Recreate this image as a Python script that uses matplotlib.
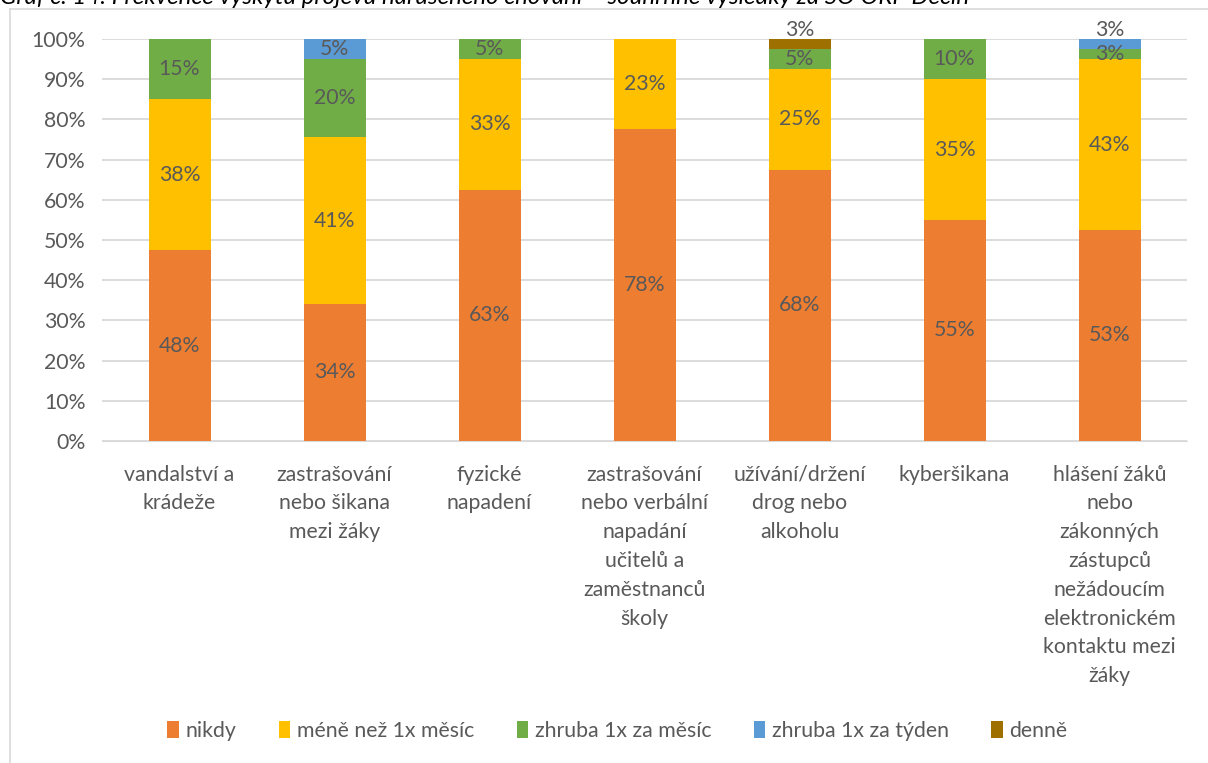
import math

import matplotlib
matplotlib.use("Agg")
import matplotlib.pyplot as plt
from matplotlib.lines import Line2D
from matplotlib.patches import Patch

plt.rcParams["font.family"] = ["Lato", "DejaVu Sans"]

categories = [
    "vandalství a\nkrádeže",
    "zastrašování\nnebo šikana\nmezi žáky",
    "fyzické\nnapadení",
    "zastrašování\nnebo verbální\nnapadání\nučitelů a\nzaměstnanců\nškoly",
    "užívání/držení\ndrog nebo\nalkoholu",
    "kyberšikana",
    "hlášení žáků\nnebo\nzákonných\nzástupců\nnežádoucím\nelektronickém\nkontaktu mezi\nžáky",
]
series_names = ["nikdy", "méně než 1x měsíc", "zhruba 1x za měsíc",
                "zhruba 1x za týden", "denně"]
nikdy = [47.5, 34.1, 62.5, 77.5, 67.5, 55.0, 52.5]
mene = [37.5, 41.4, 32.5, 22.5, 25.0, 35.0, 42.5]
mesic = [15.0, 19.5, 5.0, 0.0, 5.0, 10.0, 2.5]
tyden = [0.0, 5.0, 0.0, 0.0, 0.0, 0.0, 2.5]
denne = [0.0, 0.0, 0.0, 0.0, 2.5, 0.0, 0.0]
series = [nikdy, mene, mesic, tyden, denne]
colors = ["#ED7D31", "#FFC000", "#70AD47", "#5B9BD5", "#9E7000"]

# labels placed above the bar instead of in the segment (series idx, category idx)
above = {(4, 4), (3, 6)}

FS = 15.3
fig = plt.figure(figsize=(12.08, 7.63), dpi=100)
ax = fig.add_axes([102 / 1208, 1 - 441 / 763, (1187 - 102) / 1208, (441 - 39) / 763])

x = list(range(len(categories)))
bottoms = [0.0] * len(categories)
for s, (vals, col) in enumerate(zip(series, colors)):
    ax.bar(x, vals, bottom=bottoms, width=0.4, color=col, zorder=3)
    for i, v in enumerate(vals):
        if v <= 0:
            continue
        lbl = f"{math.floor(v + 0.5)}%"
        if (s, i) in above:
            y = 102.3
        else:
            y = bottoms[i] + v / 2
        ax.text(i, y, lbl, ha="center", va="center", fontsize=FS,
                color="#595959", zorder=4, clip_on=False)
    bottoms = [b + v for b, v in zip(bottoms, vals)]

ax.set_xlim(-0.5, len(categories) - 0.5)
ax.set_ylim(0, 100)
ax.set_yticks(range(0, 101, 10))
ax.set_yticklabels([f"{t}%" for t in range(0, 101, 10)])
ax.set_xticks(x)
ax.set_xticklabels(categories, linespacing=1.55)
ax.tick_params(axis="both", length=0, labelsize=FS, colors="#595959")
ax.tick_params(axis="x", pad=17)
ax.tick_params(axis="y", pad=12)
for sp in ["top", "right", "left"]:
    ax.spines[sp].set_visible(False)
ax.spines["bottom"].set_color("#D9D9D9")
ax.grid(axis="y", color="#D9D9D9", linewidth=1.3, zorder=0)
ax.set_axisbelow(True)

handles = [Patch(facecolor=c, edgecolor="none") for c in colors]
fig.legend(handles, series_names, loc="center", bbox_to_anchor=(0.511, 0.042),
           ncol=5, frameon=False, fontsize=FS, handlelength=0.55, handleheight=0.8,
           handletextpad=0.3, columnspacing=2.0, labelcolor="#595959")

# outer chart frame (cut off at right and bottom)
fig.add_artist(Line2D([10 / 1208, 10 / 1208], [0, 1 - 9 / 763], color="#D9D9D9",
                      linewidth=1.2, transform=fig.transFigure))
fig.add_artist(Line2D([10 / 1208, 1], [1 - 9 / 763, 1 - 9 / 763], color="#D9D9D9",
                      linewidth=1.2, transform=fig.transFigure))

fig.text(0.0, 1 - 4 / 763, "Graf č. 14: Frekvence výskytu projevů narušeného chování – "
         "souhrnné výsledky za SO ORP Děčín", ha="left", va="baseline",
         fontsize=17.3, style="italic", color="black")

fig.savefig("out.png", dpi=100)
